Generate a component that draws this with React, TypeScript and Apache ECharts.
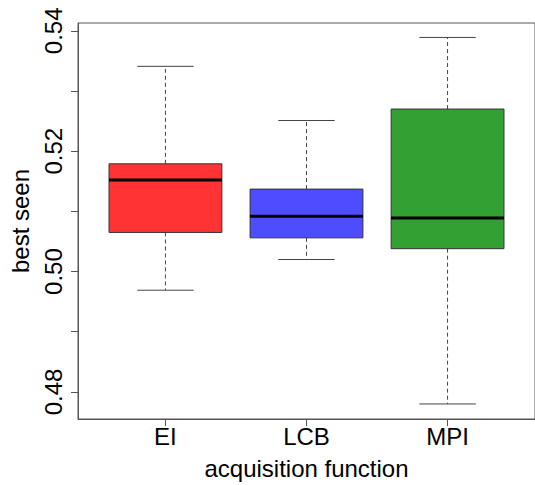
import React, { useEffect, useRef } from "react";
import * as echarts from "echarts";

const categories = ["EI", "LCB", "MPI"];
const whiskerLow = [0.4969, 0.5020, 0.4780];
const q1 = [0.5065, 0.5056, 0.5038];
const median = [0.5152, 0.5092, 0.5089];
const q3 = [0.5179, 0.5137, 0.5270];
const whiskerHigh = [0.5341, 0.5251, 0.5389];
const colors = ["#FF3333", "#4D4DFF", "#33A033"];
const yLabelValues = [0.48, 0.5, 0.52, 0.54];
const yTickValues = [0.48, 0.49, 0.5, 0.51, 0.52, 0.53, 0.54];

const FONT = "'Liberation Sans', Arial, Helvetica, sans-serif";

export default function App() {
  const ref = useRef<HTMLDivElement>(null);
  useEffect(() => {
    if (!ref.current) return;
    const chart = echarts.init(ref.current, null, { renderer: "svg" });
    const data = categories.map((_, i) => [
      i + 1,
      whiskerLow[i],
      q1[i],
      median[i],
      q3[i],
      whiskerHigh[i],
    ]);
    const renderItem = (params: any, api: any) => {
      const x = api.value(0);
      const idx = params.dataIndex;
      const pLow = api.coord([x, api.value(1)]);
      const pQ1 = api.coord([x, api.value(2)]);
      const pMed = api.coord([x, api.value(3)]);
      const pQ3 = api.coord([x, api.value(4)]);
      const pHigh = api.coord([x, api.value(5)]);
      const halfBox = api.size([0.4, 0])[0];
      const halfCap = api.size([0.2, 0])[0];
      const cx = pMed[0];
      const whiskerStyle = { stroke: "#444", lineWidth: 1, lineDash: [4, 3] };
      const capStyle = { stroke: "#444", lineWidth: 1 };
      return {
        type: "group",
        children: [
          { type: "line", shape: { x1: cx, y1: pQ3[1], x2: cx, y2: pHigh[1] }, style: whiskerStyle },
          { type: "line", shape: { x1: cx, y1: pQ1[1], x2: cx, y2: pLow[1] }, style: whiskerStyle },
          { type: "line", shape: { x1: cx - halfCap, y1: pHigh[1], x2: cx + halfCap, y2: pHigh[1] }, style: capStyle },
          { type: "line", shape: { x1: cx - halfCap, y1: pLow[1], x2: cx + halfCap, y2: pLow[1] }, style: capStyle },
          {
            type: "rect",
            shape: { x: cx - halfBox, y: pQ3[1], width: halfBox * 2, height: pQ1[1] - pQ3[1] },
            style: { fill: colors[idx], stroke: "#333", lineWidth: 1 },
          },
          {
            type: "line",
            shape: { x1: cx - halfBox, y1: pMed[1], x2: cx + halfBox, y2: pMed[1] },
            style: { stroke: "#000", lineWidth: 3 },
          },
        ],
      };
    };
    chart.setOption({
      animation: false,
      backgroundColor: "#fff",
      textStyle: { fontFamily: FONT },
      grid: {
        left: 76,
        top: 23,
        right: -2,
        bottom: 65,
        show: true,
        borderColor: "#555",
        borderWidth: 1,
        containLabel: false,
      },
      xAxis: {
        type: "value",
        min: 0.38,
        max: 3.62,
        splitLine: { show: false },
        axisLine: { show: true, lineStyle: { color: "#555", width: 1 } },
        axisTick: { show: true, length: 7, customValues: [1, 2, 3], lineStyle: { color: "#555" } },
        axisLabel: {
          customValues: [1, 2, 3],
          formatter: (v: number) => categories[Math.round(v) - 1] ?? "",
          fontSize: 24,
          color: "#000",
          margin: 5,
          fontFamily: FONT,
        },
        name: "acquisition function",
        nameLocation: "middle",
        nameGap: 37,
        nameTextStyle: { fontSize: 24, color: "#000", fontFamily: FONT },
      },
      yAxis: {
        type: "value",
        min: 0.4755,
        max: 0.5413,
        splitLine: { show: false },
        axisLine: { show: true, lineStyle: { color: "#555", width: 1 } },
        axisTick: { show: true, length: 7, customValues: yTickValues, lineStyle: { color: "#555" } },
        axisLabel: {
          customValues: yLabelValues,
          formatter: (v: number) => v.toFixed(2),
          rotate: 90,
          fontSize: 24,
          color: "#000",
          margin: 13,
          fontFamily: FONT,
        },
        name: "best seen",
        nameLocation: "middle",
        nameGap: 46,
        nameTextStyle: { fontSize: 24, color: "#000", fontFamily: FONT },
      },
      series: [
        {
          type: "custom",
          renderItem,
          data,
          encode: { x: 0, y: [1, 2, 3, 4, 5] },
          clip: false,
        },
      ],
    });
    return () => chart.dispose();
  }, []);
  return (
    <div
      ref={ref}
      style={{ position: "fixed", left: 0, top: 0, width: 535, height: 485, background: "#fff" }}
    />
  );
}
